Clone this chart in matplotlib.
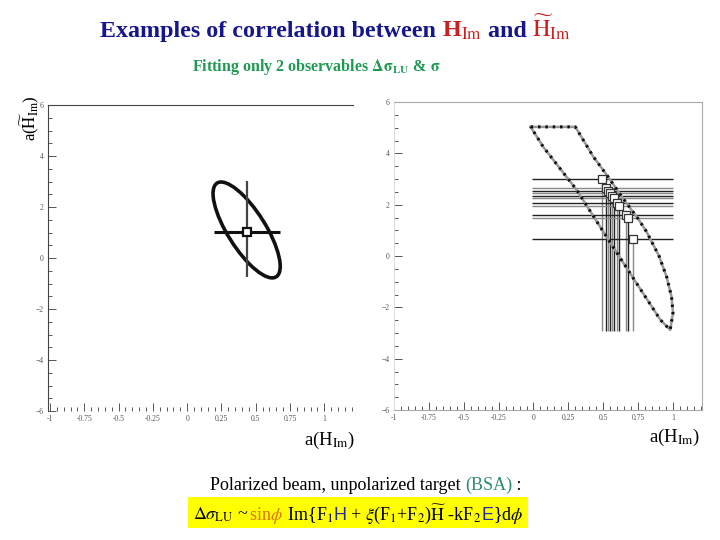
import matplotlib
matplotlib.use("Agg")
import matplotlib.pyplot as plt
import numpy as np
from matplotlib.patches import Ellipse, Rectangle
from matplotlib.ticker import MultipleLocator

plt.rcParams['font.family'] = ['Liberation Serif', 'DejaVu Serif']
plt.rcParams['mathtext.fontset'] = 'stix'

# left panel: fitted value and its 1-sigma contour
fit_x, fit_y = 0.438, 1.02
fit_xerr = 0.24
fit_yerr_lo, fit_yerr_hi = 1.77, 2.0
ell_cx, ell_cy = 0.434, 1.10
ell_sx, ell_sy, ell_rho = 0.245, 1.88, -0.76

# right panel: contour (clipped at top) and fitted points
cont_x = [-0.02, 0.30, 0.43, 0.53, 0.64, 0.75, 0.81, 0.90, 0.955, 0.99, 1.00, 0.98,
          0.91, 0.71, 0.50, 0.31, 0.07, -0.02]
cont_y = [5.03, 5.03, 3.86, 3.12, 2.26, 1.45, 0.95, 0.0, -0.82, -1.6, -2.22, -2.88,
          -2.49, -0.82, 0.95, 2.57, 4.25, 5.03]
pts_x = [0.49, 0.52, 0.535, 0.55, 0.565, 0.58, 0.60, 0.615, 0.66, 0.675, 0.715]
pts_y = [3.0, 2.65, 2.55, 2.45, 2.35, 2.25, 2.05, 1.95, 1.6, 1.5, 0.66]
bar_xmin, bar_xmax = -0.01, 1.0
bar_ymin = -2.92

fig = plt.figure(figsize=(7.2, 5.4), dpi=100)
W, H = 720, 540


def px_axes(l, t, r, b):
    return fig.add_axes([l / W, 1 - b / H, (r - l) / W, (b - t) / H])


def style(ax, xlo, xhi):
    ax.set_xlim(xlo, xhi)
    ax.set_ylim(-6, 6)
    ax.xaxis.set_major_locator(MultipleLocator(0.25))
    ax.xaxis.set_minor_locator(MultipleLocator(0.05))
    ax.yaxis.set_major_locator(MultipleLocator(2))
    ax.yaxis.set_minor_locator(MultipleLocator(0.5))
    ax.set_xticks([-1, -0.75, -0.5, -0.25, 0, 0.25, 0.5, 0.75, 1])
    ax.set_xticklabels(['-1', '-0.75', '-0.5', '-0.25', '0', '0.25', '0.5', '0.75', '1'])
    ax.tick_params(which='both', direction='in', labelsize=5.5, colors='#555555',
                   labelcolor='#555555', pad=3, width=0.7)
    ax.tick_params(which='major', length=6)
    ax.tick_params(which='minor', length=3)
    for s in ax.spines.values():
        s.set_color('#aaaaaa')
        s.set_linewidth(0.8)


# ---- left panel
ax1 = px_axes(48, 105, 353, 411)
style(ax1, -1.015, 1.21)
ax1.spines['right'].set_visible(False)
ax1.spines['bottom'].set_visible(False)
ax1.spines['left'].set_color('#444444')
ax1.spines['top'].set_color('#444444')

cov = np.array([[ell_sx ** 2, ell_rho * ell_sx * ell_sy],
                [ell_rho * ell_sx * ell_sy, ell_sy ** 2]])
vals, vecs = np.linalg.eigh(cov)
ang = np.degrees(np.arctan2(vecs[1, 1], vecs[0, 1]))
ell = Ellipse((ell_cx, ell_cy), 2 * np.sqrt(vals[1]), 2 * np.sqrt(vals[0]), angle=ang,
              fill=False, edgecolor='#111111', lw=2.6)
ax1.add_patch(ell)
ax1.hlines(fit_y, fit_x - fit_xerr, fit_x + fit_xerr, color='#111111', lw=2.2)
ax1.vlines(fit_x, fit_y - fit_yerr_lo, fit_y + fit_yerr_hi, color='#444444', lw=1.6)
ax1.plot([fit_x], [fit_y], 's', ms=5.5, mfc='white', mec='#111111', mew=1.6)

# ---- right panel
ax2 = px_axes(394, 102, 702, 410)
style(ax2, -1.0, 1.208)
ax2.spines['left'].set_color('#dddddd')

greys = ['#222222', '#888888']
for i, (x, y) in enumerate(zip(pts_x, pts_y)):
    c = greys[i % 2]
    ax2.hlines(y, bar_xmin, bar_xmax, color=c, lw=1.0)
    ax2.vlines(x, bar_ymin, y, color=greys[(i + 1) % 2], lw=1.0)
ax2.plot(cont_x, cont_y, color='#999999', lw=1.8)
ax2.plot(cont_x, cont_y, color='#111111', lw=2.2, linestyle=(0, (0.8, 1.6)))
ax2.plot(pts_x, pts_y, 's', ms=6, mfc='white', mec='#333333', mew=0.9)

# axis labels
fig.text(355 / W, 1 - 445 / H, r'a(H$_{\mathrm{Im}}$)', fontsize=13.5, ha='right', va='baseline')
fig.text(700 / W, 1 - 442 / H, r'a(H$_{\mathrm{Im}}$)', fontsize=13.5, ha='right', va='baseline')
fig.text(30 / W, 1 - 95 / H, r'a($\widetilde{\mathrm{H}}_{\mathrm{Im}}$)', fontsize=12,
         rotation=90, ha='center', va='top')

renderer = fig.canvas.get_renderer()


def rich_text(x_px, y_px, parts, size, weight='normal'):
    x = x_px / W
    y = 1 - y_px / H
    for s, c, fam in parts:
        kw = {}
        if fam:
            kw['family'] = fam
        t = fig.text(x, y, s, color=c, fontsize=size, fontweight=weight,
                     ha='left', va='baseline', **kw)
        bb = t.get_window_extent(renderer=renderer)
        x = bb.x1 / fig.bbox.width


navy = '#16168c'
red = '#cc2020'
green = '#1e9a52'
rich_text(100, 37, [('Examples of correlation between ', navy, None),
                    (r'H$_{\mathrm{Im}}$', red, None),
                    (' and ', navy, None),
                    (r'$\widetilde{\mathrm{H}}_{\mathrm{Im}}$', red, None)], 17.3, 'bold')
rich_text(192, 71, [(r'Fitting only 2 observables $\mathbf{\Delta\sigma}_{\mathbf{LU}}$ & $\mathbf{\sigma}$',
                     green, None)], 11.5, 'bold')

rich_text(210, 490, [('Polarized beam, unpolarized target ', 'black', None),
                     ('(BSA)', '#2e8b6e', None),
                     (' :', 'black', None)], 13)

fig.add_artist(Rectangle((188 / W, 1 - 528 / H), 340 / W, 31 / H,
                         transform=fig.transFigure, facecolor='#ffff00', edgecolor='none'))
blue = '#2a2aa8'
rich_text(193, 520, [(r'$\Delta\sigma_{\mathrm{LU}}$ ~ ', 'black', None),
                     (r'sin$\phi$', '#e07010', None),
                     (' Im{F$_1$', 'black', None),
                     ('H', blue, 'Liberation Sans'),
                     (r' + $\xi$(F$_1$+F$_2$)$\widetilde{\mathrm{H}}$ -kF$_2$', 'black', None),
                     ('E', blue, 'Liberation Sans'),
                     (r'}d$\phi$', 'black', None)], 13)

plt.savefig('out.png', dpi=100)
